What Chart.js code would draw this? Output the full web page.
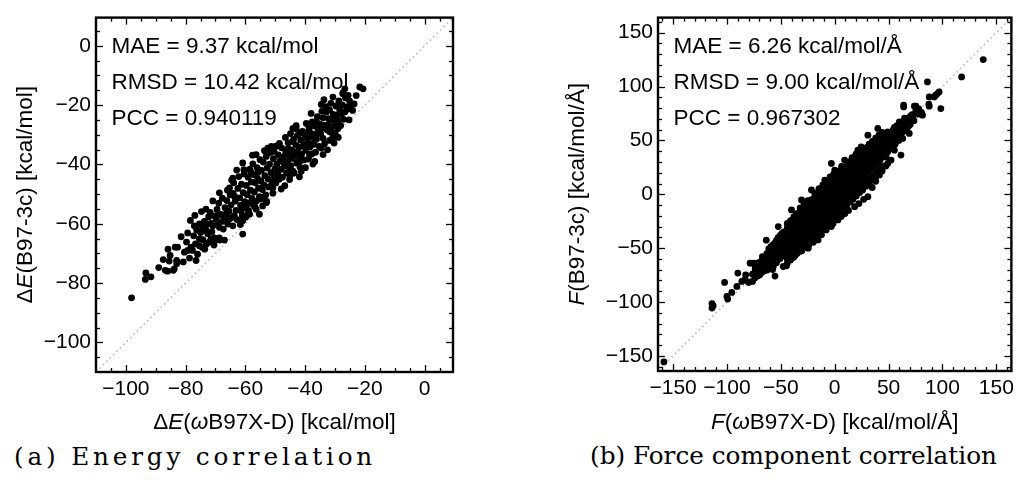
<!DOCTYPE html>
<html>
<head>
<meta charset="utf-8">
<script src="https://cdn.jsdelivr.net/npm/chart.js@4.4.1/dist/chart.umd.min.js"></script>
<style>
  html, body { margin: 0; padding: 0; background: #fff; }
  #page { position: relative; width: 1019px; height: 485px; overflow: hidden; background: #fff; }
  .panel { position: absolute; top: 0; }
  .caption { position: absolute; font-family: "DejaVu Serif", serif; color: #000; white-space: nowrap; line-height: 1; }
</style>
</head>
<body>
<div id="page">
  <div class="panel" style="left:0px"><canvas id="energyChart" width="470" height="440"></canvas></div>
  <div class="panel" style="left:500px"><canvas id="forceChart" width="519" height="440"></canvas></div>
  <div class="caption" id="capA">(a) Energy correlation</div>
  <div class="caption" id="capB">(b) Force component correlation</div>
</div>
<script>
// ===== DONNÉES =====
// axes
const energyRange = [-110, 9.5];
const energyMajor = [-100, -80, -60, -40, -20, 0];
const energyMinor = [-105, -95, -90, -85, -75, -70, -65, -55, -50, -45, -35, -30, -25, -15, -10, -5, 5];
const forceRange = [-164, 164];
const forceMajor = [-150, -100, -50, 0, 50, 100, 150];
const forceMinor = [-160, -140, -130, -120, -110, -90, -80, -70, -60, -40, -30, -20, -10,
  10, 20, 30, 40, 60, 70, 80, 90, 110, 120, 130, 140, 160];

// textes
const energyStats = ['MAE = 9.37 kcal/mol', 'RMSD = 10.42 kcal/mol', 'PCC = 0.940119'];
const forceStats = ['MAE = 6.26 kcal/mol/Å', 'RMSD = 9.00 kcal/mol/Å', 'PCC = 0.967302'];

// ΔE(ωB97X-D), ΔE(B97-3c)  [kcal/mol]
const energyPairs = [
  [-98.1,-85.0],[-93.5,-78.8],[-93.3,-76.6],[-91.6,-77.9],
  [-89.0,-74.8],[-87.5,-72.1],[-86.8,-75.7],[-86.0,-76.0],[-85.9,-68.6],[-85.5,-72.6],[-85.2,-70.7],[-84.1,-75.7],
  [-83.8,-75.2],[-83.5,-67.9],[-83.0,-72.4],[-83.0,-73.5],[-82.7,-67.9],
  [-81.5,-64.4],[-80.8,-72.9],[-80.4,-69.6],[-79.7,-66.2],[-79.3,-69.0],[-79.3,-63.1],[-78.7,-71.6],[-78.4,-58.9],
  [-78.2,-67.9],[-77.7,-69.0],[-77.3,-64.1],[-77.1,-60.7],[-76.9,-57.2],[-76.7,-66.8],[-76.5,-72.4],[-76.3,-62.1],[-76.0,-70.3],
  [-75.4,-67.4],[-75.4,-65.1],[-75.4,-60.1],[-75.0,-63.0],[-74.7,-55.9],[-74.5,-67.9],[-74.3,-61.2],[-74.2,-65.4],
  [-73.7,-59.2],[-73.6,-68.6],[-73.2,-55.1],[-73.0,-66.8],[-73.0,-62.4],[-72.8,-60.3],[-72.6,-63.4],[-72.3,-57.7],
  [-72.1,-66.2],[-71.8,-56.2],[-71.5,-65.1],[-71.5,-59.9],[-71.2,-62.7],[-70.9,-60.7],[-70.9,-52.3],[-70.5,-67.2],
  [-70.4,-64.8],[-70.2,-57.4],
  [-69.8,-65.5],[-69.8,-58.5],[-69.5,-55.2],[-69.3,-57.3],[-69.1,-59.6],[-68.9,-53.1],[-68.7,-64.8],[-68.7,-61.2],
  [-68.7,-49.6],[-68.5,-65.5],[-68.2,-56.9],[-67.7,-51.4],[-67.6,-59.2],[-67.4,-61.8],[-67.1,-58.3],[-67.0,-65.5],
  [-66.8,-54.6],[-66.5,-56.8],[-66.2,-52.2],[-66.0,-48.7],[-65.9,-60.1],[-65.5,-55.8],[-65.4,-58.5],[-65.3,-47.9],[-65.1,-50.3],
  [-64.8,-53.7],[-64.6,-45.3],[-64.5,-57.9],[-64.2,-60.7],[-64.2,-44.6],[-64.1,-49.8],[-63.9,-46.2],[-63.7,-57.3],
  [-63.6,-50.8],[-63.4,-52.4],[-63.1,-55.5],[-62.9,-41.9],[-62.8,-58.6],[-62.5,-48.1],[-62.2,-44.1],[-62.0,-59.0],
  [-61.9,-51.3],[-61.7,-60.3],[-61.6,-53.8],[-61.4,-55.7],[-61.3,-46.7],[-61.0,-57.2],[-60.9,-63.5],[-60.9,-59.0],
  [-60.9,-39.5],[-60.7,-49.5],[-60.5,-41.8],[-60.4,-43.2],[-60.2,-52.6],
  [-59.9,-57.8],[-59.8,-54.6],[-59.7,-47.1],[-59.4,-50.2],[-59.2,-56.8],[-59.1,-44.3],[-58.9,-55.6],[-58.8,-53.1],
  [-58.6,-56.8],[-58.5,-41.6],[-58.3,-48.7],[-58.2,-42.5],[-58.0,-45.9],[-57.8,-51.5],[-57.6,-36.9],[-57.5,-53.4],
  [-57.5,-39.8],[-57.2,-43.4],[-57.0,-49.3],[-56.9,-54.2],[-56.7,-46.2],[-56.4,-55.1],[-56.4,-52.4],[-56.4,-36.7],
  [-56.1,-41.1],[-55.9,-44.8],[-55.8,-42.7],[-55.6,-48.0],[-55.3,-56.8],[-55.3,-50.9],[-55.1,-38.4],
  [-54.9,-51.7],[-54.8,-45.6],[-54.6,-42.0],[-54.3,-48.5],[-54.2,-54.0],[-54.2,-51.2],[-54.0,-39.2],[-53.8,-46.9],
  [-53.6,-35.4],[-53.5,-43.8],[-53.2,-50.3],[-53.0,-52.9],[-53.0,-37.3],[-52.9,-52.5],[-52.7,-41.2],[-52.5,-34.5],
  [-52.4,-44.9],[-52.2,-47.6],[-51.9,-39.9],[-51.6,-36.0],[-51.4,-42.8],[-51.3,-33.9],[-51.1,-46.0],[-50.8,-49.7],
  [-50.8,-47.9],[-50.6,-38.1],[-50.4,-35.6],[-50.3,-44.2],[-50.1,-41.5],
  [-49.8,-46.3],[-49.6,-33.8],[-49.5,-40.0],[-49.2,-43.1],[-49.0,-36.8],[-48.7,-45.0],[-48.6,-32.9],[-48.4,-38.9],
  [-48.1,-41.7],[-48.0,-48.3],[-47.9,-34.4],[-47.6,-44.3],[-47.4,-39.0],[-47.3,-37.5],[-47.0,-40.6],[-46.8,-47.2],
  [-46.6,-30.9],[-46.5,-35.8],[-46.3,-35.1],[-46.2,-42.9],[-45.9,-39.1],[-45.7,-32.7],[-45.6,-34.6],[-45.4,-37.0],
  [-45.2,-45.1],[-45.2,-41.2],[-45.1,-43.9],
  [-44.9,-29.6],[-44.8,-40.4],[-44.5,-35.2],[-44.2,-38.0],[-44.1,-42.3],[-44.1,-32.3],[-44.1,-27.9],[-43.9,-31.6],
  [-43.7,-42.9],[-43.4,-36.4],[-43.1,-33.5],[-43.0,-27.9],[-43.0,-26.9],[-42.8,-39.6],[-42.6,-30.2],[-42.4,-35.6],
  [-42.3,-37.4],[-42.0,-34.2],[-41.9,-44.2],[-41.8,-39.0],[-41.8,-29.5],[-41.7,-41.0],[-41.5,-31.8],[-41.3,-42.3],
  [-41.2,-36.6],[-40.9,-28.9],[-40.6,-33.7],[-40.4,-38.5],[-40.2,-33.4],[-40.1,-30.9],
  [-39.9,-41.1],[-39.8,-35.3],[-39.6,-26.2],[-39.5,-29.4],[-39.2,-32.6],[-38.9,-38.2],[-38.7,-27.6],[-38.5,-36.7],
  [-38.5,-29.0],[-38.4,-34.1],[-38.1,-30.8],[-38.0,-22.8],[-37.8,-36.5],[-37.6,-25.7],[-37.4,-39.9],[-37.4,-32.9],
  [-37.4,-26.8],[-37.3,-29.8],[-37.0,-33.2],[-36.8,-39.0],[-36.7,-27.1],[-36.5,-35.9],[-36.2,-31.5],[-36.2,-30.1],
  [-36.2,-25.6],[-35.9,-23.9],[-35.6,-28.5],[-35.3,-33.9],[-35.1,-26.4],
  [-34.8,-29.6],[-34.6,-34.5],[-34.6,-27.9],[-34.6,-19.8],[-34.4,-22.1],[-34.0,-36.7],[-34.0,-31.2],[-34.0,-24.3],
  [-33.9,-26.8],[-33.7,-18.2],[-33.5,-33.0],[-33.1,-20.5],[-32.9,-22.3],[-32.7,-28.3],[-32.5,-35.1],[-32.3,-26.7],
  [-32.2,-24.6],[-31.8,-31.9],[-31.8,-29.0],[-31.8,-21.7],[-31.4,-19.4],[-31.0,-27.4],[-30.7,-30.6],[-30.7,-25.0],
  [-30.7,-17.3],[-30.6,-23.1],[-30.3,-32.8],[-30.1,-30.6],[-30.1,-29.5],[-30.1,-26.7],
  [-29.9,-29.8],[-29.7,-20.3],[-29.5,-23.4],[-29.2,-24.0],[-29.0,-27.9],[-29.0,-25.6],[-28.9,-30.9],[-28.7,-18.6],
  [-28.4,-21.7],[-28.1,-26.9],[-27.8,-22.9],[-27.6,-19.9],[-27.4,-16.2],[-27.3,-15.8],[-27.1,-24.8],[-26.7,-22.3],
  [-26.7,-14.5],[-26.5,-17.6],[-26.2,-20.6],[-25.9,-21.4],[-25.6,-16.7],[-25.3,-25.0],[-25.1,-18.7],[-24.5,-20.0],
  [-24.1,-21.8],[-23.6,-19.6],[-22.9,-16.8],[-21.7,-13.9],[-20.6,-14.5]
];

// F(ωB97X-D), F(B97-3c)  [kcal/mol/Å]
const forcePairs = [
  [-158.5,-155.6],
  [-113.9,-101.6],[-113.9,-105.6],[-112.8,-103.4],[-102.2,-81.8],[-100.0,-94.8],[-99.3,-97.2],[-95.5,-91.1],
  [-90.8,-85.5],[-89.9,-73.1],[-86.2,-80.9],[-83.1,-78.7],[-82.6,-74.7],[-80.0,-81.8],
  [-78.5,-63.9],[-76.3,-74.1],[-76.3,-80.9],[-75.4,-63.9],[-73.9,-73.1],[-73.8,-70.2],[-73.8,-77.5],[-73.8,-68.0],
  [-72.4,-63.9],[-71.2,-75.6],[-71.2,-66.9],[-71.2,-71.8],
  [-69.5,-63.0],[-69.5,-69.4],[-69.5,-74.7],[-67.8,-62.4],[-67.1,-66.3],[-67.1,-60.5],[-67.1,-72.2],[-67.1,-57.9],
  [-66.2,-65.5],[-65.4,-70.9],[-65.4,-64.0],[-65.4,-58.6],[-63.5,-42.6],[-63.2,-61.5],[-63.0,-67.8],[-63.0,-55.2],
  [-63.0,-70.4],[-61.6,-59.3],[-61.2,-56.8],[-61.2,-66.1],[-61.2,-50.7],[-61.2,-62.0],
  [-59.4,-64.9],[-59.4,-58.2],[-59.4,-53.6],[-59.4,-48.9],[-58.5,-50.0],[-57.6,-55.1],[-57.6,-62.7],[-57.6,-47.3],
  [-57.6,-69.8],[-57.6,-58.0],[-57.0,-67.0],[-55.9,-52.6],[-55.9,-60.4],[-55.9,-45.5],[-55.9,-64.1],[-55.4,-75.9],
  [-54.1,-49.8],[-54.1,-58.9],[-54.1,-53.0],[-54.1,-42.7],[-54.1,-63.5],[-53.9,-50.0],
  [-52.5,-57.6],[-52.5,-47.2],[-52.5,-51.4],[-52.5,-60.8],[-52.4,-30.0],[-52.5,-40.3],
  [-50.8,-46.9],[-50.6,-55.3],[-50.6,-45.9],[-50.6,-49.4],[-50.6,-38.1],[-50.6,-59.7],[-50.6,-52.0],[-49.3,-51.6],
  [-48.9,-44.2],[-48.9,-53.8],[-48.9,-47.6],[-48.9,-36.4],[-48.9,-57.0],
  [-47.7,-67.0],[-47.2,-51.7],[-47.2,-41.9],[-47.2,-46.3],[-47.2,-56.5],[-47.2,-34.8],[-47.2,-48.8],
  [-46.2,-45.4],[-45.4,-43.0],[-45.4,-50.6],[-45.4,-39.2],[-45.4,-54.9],[-45.4,-46.1],[-44.7,-66.4],
  [-44.0,-31.0],[-44.0,-27.0],[-44.0,-60.0],[-44.0,-64.0],
  [-43.7,-48.3],[-43.7,-37.5],[-43.7,-43.9],[-43.7,-52.8],[-43.7,-32.1],[-43.7,-41.0],[-43.1,-48.5],
  [-41.9,-40.6],[-41.9,-46.7],[-41.9,-35.4],[-41.9,-50.9],[-41.9,-43.2],[-41.9,-29.6],
  [-41.0,-29.0],[-41.0,-24.5],[-41.0,-57.0],[-41.0,-61.0],
  [-40.2,-38.3],[-40.2,-45.1],[-40.2,-33.0],[-40.2,-49.5],[-40.2,-41.4],[-40.2,-27.8],[-40.1,-42.3],[-40.1,-14.5],
  [-38.5,-45.4],[-38.4,-43.8],[-38.4,-36.2],[-38.4,-31.5],[-38.4,-47.7],[-38.4,-39.0],[-38.4,-52.3],
  [-38.0,-26.5],[-38.0,-21.0],[-38.0,-54.0],[-38.0,-58.5],
  [-36.9,-46.9],[-36.9,-57.0],[-36.7,-34.6],[-36.7,-41.9],[-36.7,-29.3],[-36.7,-45.8],[-36.7,-37.2],[-36.7,-24.5],
  [-35.5,-18.0],[-35.0,-23.0],[-35.0,-51.0],[-35.0,-55.0],
  [-34.9,-39.7],[-34.9,-32.8],[-34.9,-44.1],[-34.9,-27.0],[-34.9,-35.5],[-34.9,-48.6],[-34.9,-21.9],
  [-33.9,-39.3],[-33.2,-31.0],[-33.2,-38.4],[-33.2,-25.6],[-33.2,-42.9],[-33.2,-34.1],[-33.2,-20.3],
  [-32.5,-21.0],[-32.5,-16.5],[-32.5,-48.5],[-32.5,-53.0],
  [-32.0,-12.6],[-31.4,-36.5],[-31.4,-29.2],[-31.4,-40.7],[-31.4,-23.8],[-31.4,-32.6],[-31.4,-45.2],
  [-30.8,-36.1],[-30.8,-5.3],[-30.5,-52.4],[-30.0,-18.5],[-30.0,-13.0],[-30.0,-46.0],[-30.0,-50.0],
  [-29.7,-27.5],[-29.7,-34.8],[-29.7,-21.9],[-29.7,-39.1],[-29.7,-30.6],[-29.7,-17.4],[-29.7,-43.5],[-29.3,-45.4],
  [-28.4,-9.1],[-27.9,-33.3],[-27.9,-25.8],[-27.9,-37.6],[-27.9,-19.7],[-27.9,-28.4],[-27.9,-41.2],[-27.7,-49.2],
  [-27.0,-15.5],[-27.0,-10.5],[-27.0,-43.0],[-27.0,-47.0],
  [-26.2,-24.1],[-26.2,-31.5],[-26.2,-17.9],[-26.2,-35.9],[-26.2,-26.8],[-26.2,-13.6],[-26.2,-39.7],
  [-25.0,-5.8],[-24.6,-50.0],[-24.4,-29.7],[-24.4,-22.3],[-24.4,-33.8],[-24.4,-16.5],[-24.4,-25.0],[-24.4,-38.2],
  [-24.1,-47.0],[-24.0,-12.0],[-24.0,-8.5],[-24.0,-40.5],[-24.0,-44.0],
  [-22.7,-20.6],[-22.7,-28.1],[-22.7,-14.2],[-22.7,-32.5],[-22.7,-23.4],[-22.7,-9.8],[-22.7,-36.9],
  [-21.6,4.0],[-21.5,-9.0],[-21.5,-5.0],[-21.5,-38.0],[-21.5,-42.5],
  [-20.9,-26.0],[-20.9,-18.8],[-20.9,-30.7],[-20.9,-12.9],[-20.9,-21.7],[-20.9,-35.4],[-20.0,-40.8],
  [-19.8,-44.6],[-19.2,-17.1],[-19.2,-24.6],[-19.2,-10.8],[-19.2,-28.9],[-19.2,-20.0],[-19.2,-33.6],[-19.2,-6.4],
  [-18.5,-6.5],[-18.5,-2.0],[-18.5,-35.0],[-18.5,-39.0],
  [-18.3,0.9],[-17.4,-22.7],[-17.4,-15.3],[-17.4,-27.1],[-17.4,-9.6],[-17.4,-18.5],[-17.4,-31.8],
  [-16.0,-3.5],[-16.0,1.5],[-16.0,-33.0],[-16.0,-36.5],
  [-15.7,-13.6],[-15.7,-21.0],[-15.7,-7.8],[-15.7,-25.4],[-15.7,-16.2],[-15.7,-30.3],[-15.7,-3.7],[-15.4,-42.3],
  [-14.6,5.2],[-13.9,-19.2],[-13.9,-11.8],[-13.9,-23.7],[-13.9,-6.1],[-13.9,-14.8],[-13.9,-28.5],
  [-13.0,-1.0],[-13.0,3.5],[-13.0,-30.0],[-13.0,-33.5],
  [-12.3,-37.5],[-12.2,-10.1],[-12.2,-17.5],[-12.2,-4.3],[-12.2,-21.8],[-12.2,-13.0],[-12.2,-26.7],[-12.2,0.4],
  [-11.0,8.7],[-10.5,2.5],[-10.5,6.0],[-10.5,-27.5],[-10.5,-31.0],
  [-10.4,-15.6],[-10.4,-8.3],[-10.4,-20.1],[-10.4,-2.6],[-10.4,-11.2],[-10.4,-24.9],
  [-9.2,13.2],[-8.7,-6.6],[-8.7,-14.0],[-8.7,-0.8],[-8.7,-18.4],[-8.7,-9.5],[-8.7,-23.2],[-8.7,3.9],[-7.9,-33.1],
  [-7.5,5.0],[-7.5,10.0],[-7.5,-24.5],[-7.5,-28.0],
  [-6.9,-12.2],[-6.9,-4.8],[-6.9,-16.7],[-6.9,1.0],[-6.9,-7.7],[-6.9,-21.3],
  [-5.2,-3.1],[-5.2,-10.5],[-5.2,2.7],[-5.2,-14.9],[-5.2,-6.0],[-5.2,-19.6],[-5.2,7.5],
  [-4.5,8.0],[-4.5,12.0],[-4.5,-21.5],[-4.5,-25.0],[-4.3,16.1],
  [-3.4,-8.7],[-3.4,-1.3],[-3.4,-13.2],[-3.4,4.4],[-3.4,-4.2],[-3.4,-17.8],[-3.1,-30.0],[-3.1,28.7],
  [-2.0,10.0],[-2.0,14.5],[-2.0,-19.0],[-2.0,-22.5],
  [-1.7,0.4],[-1.7,-7.0],[-1.7,6.2],[-1.7,-11.4],[-1.7,-2.5],[-1.7,-16.1],[-1.7,10.8],[-1.5,-27.2],[-1.0,18.8],
  [0.0,22.5],[0.1,-5.2],[0.1,2.2],[0.1,-9.7],[0.1,8.0],[0.1,-0.7],[0.1,-14.3],
  [0.8,12.5],[0.8,16.5],[0.8,-16.5],[0.8,-20.5],
  [1.8,3.9],[1.8,-3.5],[1.8,9.8],[1.8,-7.9],[1.8,1.1],[1.8,-12.6],[1.8,14.6],[2.8,21.6],[3.0,-23.8],
  [3.5,15.0],[3.5,19.5],[3.5,-14.0],[3.5,-17.5],
  [3.6,-1.7],[3.6,5.7],[3.6,-6.2],[3.6,11.5],[3.6,2.9],[3.6,-10.8],
  [5.3,7.4],[5.3,0.0],[5.3,13.3],[5.3,-4.4],[5.3,4.6],[5.3,-9.1],[6.1,-20.7],[6.4,25.9],
  [6.2,17.5],[6.2,22.0],[6.2,-11.0],[6.2,-15.0],
  [7.1,1.8],[7.1,9.2],[7.1,-2.7],[7.1,15.0],[7.1,6.4],[7.1,-7.3],
  [8.8,10.9],[8.8,3.5],[8.8,16.8],[8.8,-0.9],[8.8,8.1],[8.8,-5.6],[9.2,31.8],[9.5,-17.9],
  [9.0,21.0],[9.0,25.0],[9.0,-8.5],[9.0,-12.0],
  [10.6,5.3],[10.6,12.7],[10.6,0.8],[10.6,18.5],[10.6,9.9],[10.6,-3.8],
  [11.5,23.0],[11.5,27.0],[11.5,-6.0],[11.5,-9.5],
  [12.3,14.4],[12.3,7.0],[12.3,20.3],[12.3,2.6],[12.3,11.6],[12.3,-2.1],[12.8,-15.0],[12.9,29.4],
  [14.1,8.8],[14.1,16.2],[14.1,4.3],[14.1,22.0],[14.1,13.4],[14.1,-0.3],
  [14.5,26.0],[14.5,30.5],[14.5,-3.0],[14.5,-7.0],
  [15.4,25.6],[15.8,17.9],[15.8,10.5],[15.8,23.8],[15.8,6.1],[15.8,15.1],[16.2,34.1],
  [17.0,28.0],[17.0,32.5],[17.0,-0.5],[17.0,-4.5],
  [17.6,12.3],[17.6,19.7],[17.6,7.8],[17.6,25.5],[17.6,16.9],[17.6,3.2],
  [18.5,-11.5],[18.5,34.8],[19.3,21.4],[19.3,14.0],[19.3,27.3],[19.3,9.6],[19.3,18.6],[19.7,37.3],
  [20.0,31.0],[20.0,35.0],[20.0,2.5],[20.0,-1.5],
  [21.1,15.8],[21.1,23.2],[21.1,11.3],[21.1,29.0],[21.1,20.4],[21.1,6.9],[21.5,41.0],
  [22.4,-8.6],[22.8,24.9],[22.8,17.5],[22.8,30.8],[22.8,13.1],[22.8,22.1],
  [23.0,33.5],[23.0,38.0],[23.0,5.0],[23.0,1.5],
  [24.6,19.3],[24.6,26.7],[24.6,14.8],[24.6,32.5],[24.6,23.9],[24.6,9.4],[24.6,44.1],[24.6,22.5],
  [26.0,36.5],[26.0,40.0],[26.0,8.5],[26.0,4.0],
  [26.3,28.4],[26.3,21.0],[26.3,34.3],[26.3,16.6],[26.3,25.6],[26.9,-4.7],[27.7,19.4],
  [28.1,22.8],[28.1,30.2],[28.1,18.3],[28.1,36.0],[28.1,27.4],
  [29.0,39.5],[29.0,43.0],[29.0,11.0],[29.0,7.5],
  [29.8,31.9],[29.8,24.5],[29.8,37.8],[29.8,20.1],[29.8,29.1],[29.8,13.7],
  [30.8,54.9],[30.8,33.3],[30.8,44.1],[30.8,-2.2],
  [31.6,26.3],[31.6,33.7],[31.6,21.8],[31.6,39.5],[31.6,30.9],
  [32.0,42.0],[32.0,46.5],[32.0,14.5],[32.0,10.0],
  [33.3,35.4],[33.3,28.0],[33.3,41.3],[33.3,23.6],[33.3,32.6],[34.8,6.3],
  [35.0,45.0],[35.0,49.0],[35.0,17.0],[35.0,13.5],
  [35.1,29.8],[35.1,37.2],[35.1,25.3],[35.1,43.0],[35.1,34.4],
  [36.8,38.9],[36.8,31.5],[36.8,44.8],[36.8,27.1],[36.8,36.1],[36.9,47.2],[38.1,12.0],
  [38.0,48.0],[38.0,52.0],[38.0,20.5],[38.0,16.0],
  [38.6,33.3],[38.6,40.7],[38.6,28.8],[38.6,46.5],[38.6,37.9],
  [40.0,61.1],[40.0,19.4],[40.3,42.4],[40.3,35.0],[40.3,48.3],[40.3,30.6],[40.3,39.6],
  [41.0,50.5],[41.0,55.0],[41.0,23.0],
  [41.6,51.9],[41.6,36.4],[41.6,17.9],[42.1,36.8],[42.1,44.2],[42.1,32.3],[42.1,50.0],
  [43.8,45.9],[43.8,38.5],[43.8,51.8],[43.8,34.1],[44.0,21.7],[44.0,53.0],[44.0,57.5],[44.0,26.5],
  [45.6,40.3],[45.6,47.7],[45.6,35.8],[45.6,53.5],[46.2,44.1],[46.2,50.3],
  [47.3,49.4],[47.3,42.0],[47.3,55.3],[47.3,37.6],[47.5,26.2],[47.7,34.8],
  [49.1,43.8],[49.1,51.2],[49.1,39.3],[49.2,58.0],[49.2,28.7],
  [50.8,52.9],[50.8,45.5],[50.8,57.0],[52.3,50.3],[52.3,31.8],
  [52.6,47.3],[52.6,54.7],[52.6,43.0],[54.3,56.4],[54.3,49.0],[54.3,59.8],
  [55.4,62.0],[55.4,41.0],[56.1,50.8],[56.1,58.2],[56.1,46.5],
  [57.8,59.9],[57.8,52.5],[57.8,63.7],[58.4,56.5],[59.6,54.3],[59.6,61.7],[59.6,50.0],
  [60.0,67.2],[61.3,63.4],[61.3,56.0],[61.3,66.5],[61.5,63.2],[61.5,36.4],
  [63.1,57.8],[63.1,65.2],[63.1,51.9],[64.0,82.7],[64.0,81.1],[64.8,66.9],[64.8,59.5],[64.8,70.6],
  [66.1,59.5],[66.6,61.3],[66.6,68.7],[67.0,68.8],[68.3,70.4],[68.3,63.0],[69.2,56.5],
  [70.1,64.8],[70.1,72.2],[71.8,73.9],[72.3,71.9],[73.6,68.3],[73.9,81.7],[75.3,77.4],[75.4,81.8],
  [77.6,74.4],[78.0,79.2],[80.5,76.1],[81.5,73.4],
  [86.1,104.3],[87.4,83.6],[87.7,81.8],[87.7,90.4],[92.3,90.4],[93.8,92.0],[95.4,93.5],[96.9,95.0],[98.5,79.6],
  [117.8,108.9],[137.9,125.0]
];

// ===== MISE EN FORME =====
const SANS = '"Liberation Sans", Arial, sans-serif';

function fmtTick(v) {
  return v < 0 ? '\u2212' + Math.abs(v) : String(v);
}

function richWidth(ctx, segs, size) {
  let w = 0;
  segs.forEach(s => {
    ctx.font = (s.i ? 'italic ' : '') + size + 'px ' + SANS;
    w += ctx.measureText(s.t).width;
  });
  return w;
}

function drawRich(ctx, segs, size, x, y) {
  let cx = x;
  segs.forEach(s => {
    ctx.font = (s.i ? 'italic ' : '') + size + 'px ' + SANS;
    ctx.fillText(s.t, cx, y);
    cx += ctx.measureText(s.t).width;
  });
}

// cadre style Mathematica : cadre noir, graduations vers l'intérieur sur les 4 côtés
const framePlugin = {
  id: 'mmaFrame',
  afterDraw(chart, args, o) {
    const { ctx, chartArea: a, scales: { x, y } } = chart;
    ctx.save();
    ctx.strokeStyle = '#000';
    ctx.fillStyle = '#000';
    ctx.lineCap = 'butt';

    const seg = (x1, y1, x2, y2) => { ctx.beginPath(); ctx.moveTo(x1, y1); ctx.lineTo(x2, y2); ctx.stroke(); };
    const marks = (vals, len) => {
      vals.forEach(v => {
        const px = Math.round(x.getPixelForValue(v)) + 0.5;
        seg(px, a.bottom, px, a.bottom - len);
        seg(px, a.top, px, a.top + len);
        const py = Math.round(y.getPixelForValue(v)) + 0.5;
        seg(a.left, py, a.left + len, py);
        seg(a.right, py, a.right - len, py);
      });
    };
    ctx.lineWidth = 1.3;
    marks(o.major, 7);
    marks(o.minor, 4);

    ctx.lineWidth = 2.4;
    ctx.strokeRect(a.left, a.top, a.right - a.left, a.bottom - a.top);

    // statistiques
    ctx.textAlign = 'left';
    ctx.textBaseline = 'alphabetic';
    ctx.font = '22.5px ' + SANS;
    o.stats.forEach((t, i) => ctx.fillText(t, a.left + 15.5, a.top + 35.7 + i * 36));

    // titres des axes
    const ts = 22.5;
    const wx = richWidth(ctx, o.xTitle, ts);
    drawRich(ctx, o.xTitle, ts, (a.left + a.right) / 2 - wx / 2, o.xTitleY);
    const wy = richWidth(ctx, o.yTitle, ts);
    ctx.translate(o.yTitleX, (a.top + a.bottom) / 2);
    ctx.rotate(-Math.PI / 2);
    drawRich(ctx, o.yTitle, ts, -wy / 2, 0);
    ctx.restore();
  }
};

function axis(range, major, fixSize, isY) {
  return {
    type: 'linear',
    min: range[0],
    max: range[1],
    afterBuildTicks: s => { s.ticks = major.map(v => ({ value: v })); },
    afterFit: s => { if (isY) s.width = fixSize; else s.height = fixSize; },
    grid: { display: false, drawTicks: false },
    border: { display: false },
    ticks: {
      color: '#000',
      font: { family: SANS, size: 21 },
      padding: 5,
      autoSkip: false,
      maxRotation: 0,
      callback: v => fmtTick(v)
    }
  };
}

function makeChart(id, pairs, range, major, minor, pad, yWidth, xHeight, extra) {
  const ctx = document.getElementById(id).getContext('2d');
  return new Chart(ctx, {
    type: 'scatter',
    data: {
      datasets: [
        {
          data: pairs.map(p => ({ x: p[0], y: p[1] })),
          backgroundColor: '#000',
          borderWidth: 0,
          pointRadius: 3.4,
          pointHoverRadius: 3.4,
          order: 1
        },
        {
          data: [{ x: range[0], y: range[0] }, { x: range[1], y: range[1] }],
          showLine: true,
          borderColor: '#b8b8b8',
          borderWidth: 1.6,
          borderDash: [1.6, 3.2],
          pointRadius: 0,
          order: 2
        }
      ]
    },
    options: {
      responsive: false,
      animation: false,
      devicePixelRatio: 1,
      layout: { padding: pad },
      plugins: {
        legend: { display: false },
        tooltip: { enabled: false },
        mmaFrame: Object.assign({ major: major, minor: minor }, extra)
      },
      scales: {
        x: axis(range, major, xHeight, false),
        y: axis(range, major, yWidth, true)
      }
    },
    plugins: [framePlugin]
  });
}

makeChart('energyChart', energyPairs, energyRange, energyMajor, energyMinor,
  { left: 0, top: 15, right: 17, bottom: 0 }, 96, 68, {
    stats: energyStats,
    xTitle: [{ t: 'Δ' }, { t: 'E', i: true }, { t: '(' }, { t: 'ω', i: true }, { t: 'B97X-D) [kcal/mol]' }],
    yTitle: [{ t: 'Δ' }, { t: 'E', i: true }, { t: '(B97-3c) [kcal/mol]' }],
    xTitleY: 429,
    yTitleX: 32
  });

makeChart('forceChart', forcePairs, forceRange, forceMajor, forceMinor,
  { left: 0, top: 16, right: 4, bottom: 0 }, 158, 69, {
    stats: forceStats,
    xTitle: [{ t: 'F', i: true }, { t: '(' }, { t: 'ω', i: true }, { t: 'B97X-D) [kcal/mol/Å]' }],
    yTitle: [{ t: 'F', i: true }, { t: '(B97-3c) [kcal/mol/Å]' }],
    xTitleY: 429,
    yTitleX: 84
  });

// ===== LÉGENDES (sous-figures) =====
// même corps pour les deux, la (a) est plus espacée comme dans l'original
const capCtx = document.createElement('canvas').getContext('2d');
capCtx.font = '30px "DejaVu Serif"';
const capB = document.getElementById('capB');
const capA = document.getElementById('capA');
const capSize = 30 * (997 - 590) / capCtx.measureText(capB.textContent).width;
capCtx.font = capSize + 'px "DejaVu Serif"';
const wA = capCtx.measureText(capA.textContent).width;
const spacingA = ((372 - 14) - wA) / (capA.textContent.length - 1);

function placeCaption(el, left, baseline, spacing) {
  el.style.fontSize = capSize.toFixed(2) + 'px';
  el.style.letterSpacing = spacing.toFixed(2) + 'px';
  el.style.left = left + 'px';
  el.style.top = (baseline - capSize * 0.846).toFixed(1) + 'px';
}
placeCaption(capA, 14, 466, spacingA);
placeCaption(capB, 590, 465, 0);
</script>
</body>
</html>
